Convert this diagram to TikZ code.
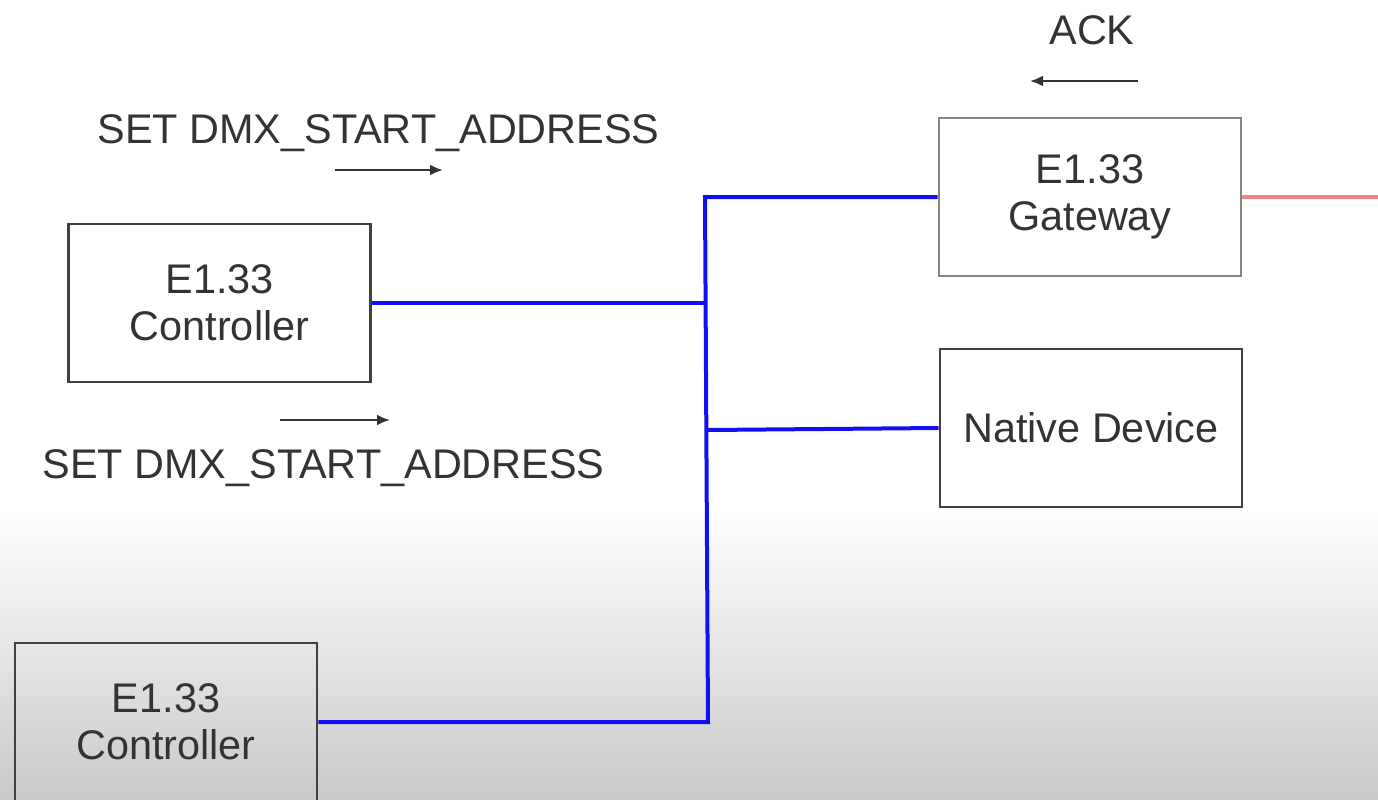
\documentclass[tikz,border=0pt]{standalone}
\usepackage{fontspec}
\setmainfont{Liberation Sans}
\usetikzlibrary{arrows.meta}
\definecolor{boxgray}{HTML}{404040}
\definecolor{gwgray}{HTML}{858585}
\definecolor{busblue}{HTML}{1010F0}
\definecolor{redlink}{HTML}{F28088}
\begin{document}
\begin{tikzpicture}[x=0.5pt,y=-0.5pt,
  every node/.style={font=\fontsize{20.7}{23.5}\selectfont,text=black!80},
  devbox/.style={draw=boxgray,line width=1.4pt,rectangle,inner sep=0pt,
    minimum width=151pt,minimum height=79pt,align=center},
  gwbox/.style={devbox,draw=gwgray},
  bus/.style={draw=busblue,line width=2pt},
  redline/.style={draw=redlink,line width=1.6pt},
  msg/.style={draw=black!80,line width=1.2pt,-{Latex[length=6.5pt,width=5.5pt]}},
  lbl/.style={inner sep=0pt}]
\useasboundingbox (0,0) rectangle (1378,799);
\fill[white] (0,0) rectangle (1378,799);
\shade[top color=white,bottom color=black!21] (0,510) rectangle (1378,799);

% devices
\node[devbox] (c1) at (219.5,303) {E1.33\\Controller};
\node[gwbox] (gw) at (1090,197) {E1.33\\Gateway};
\node[devbox] (nd) at (1091,428) {Native Device};
\node[devbox] (c2) at (166,722) {E1.33\\Controller};

% bus
\coordinate (jt) at (705,197);
\coordinate (jb) at (708,722);
\coordinate (redend) at (1378,197);
\draw[bus] (gw.west) -- (jt) -- (jb) -- (c2.east);
\draw[bus] (c1.east) -- (c1.east -| jt);
\draw[bus] (nd.west) -- (707,430);
\draw[redline] (gw.east) -- (redend);

% messages
\node[lbl] (ack) at (1092,30) {ACK};
\coordinate (acks) at (1138,81);
\coordinate (acke) at (1030,81);
\draw[msg] (acks) -- (acke);

\node[lbl] (set1) at (378.5,133) {SET DMX\_START\_ADDRESS};
\coordinate (s1s) at (335,170);
\coordinate (s1e) at (443,170);
\draw[msg] (s1s) -- (s1e);

\node[lbl] (set2) at (323.5,468) {SET DMX\_START\_ADDRESS};
\coordinate (s2s) at (280,420);
\coordinate (s2e) at (390,420);
\draw[msg] (s2s) -- (s2e);
\end{tikzpicture}
\end{document}
